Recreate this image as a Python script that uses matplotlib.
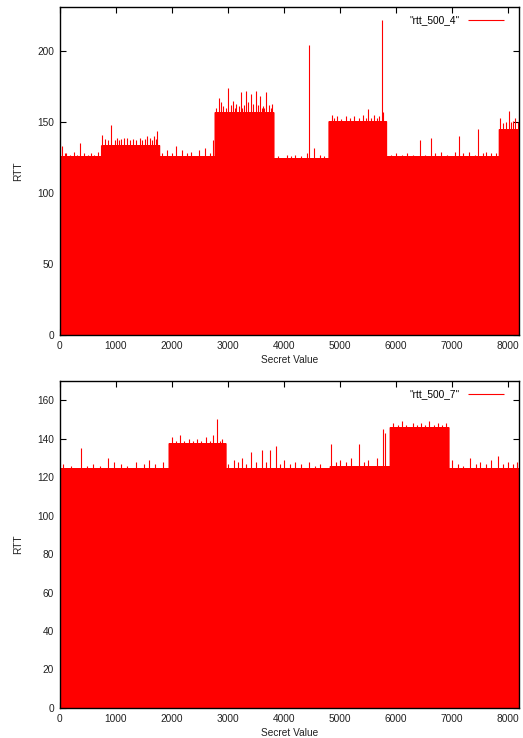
import numpy as np
import matplotlib
matplotlib.use('Agg')
import matplotlib.pyplot as plt

plt.rcParams['font.family'] = ['Liberation Sans', 'DejaVu Sans']

N = 8192  # secret values 0..8191

# ---------- data: plateau levels + visible spikes ----------
top_label = '"rtt_500_4"'
top_edges = [0, 744, 1767, 2767, 3808, 4796, 5813, 7836, 8192]
top_levels = [126, 134, 126, 157, 125, 151, 126, 145]
top_spike_x = [48, 90, 120, 180, 250, 310, 369, 430, 500, 560, 620, 680,
               755, 800, 860, 922, 980, 1023, 1060, 1100, 1150, 1201, 1250,
               1300, 1360, 1427, 1470, 1520, 1560, 1606, 1640, 1680, 1720, 1743,
               1830, 1921, 2000, 2082, 2183, 2270, 2350, 2480, 2588, 2680, 2737,
               2790, 2832, 2870, 2920, 2960, 2993, 3050, 3094, 3120, 3150, 3190,
               3225, 3250, 3280, 3320, 3360, 3404, 3450, 3493, 3530, 3570, 3600,
               3620, 3650, 3678, 3730, 3760, 3791,
               3900, 4046, 4120, 4200, 4300, 4403, 4450, 4540, 4650, 4720,
               4849, 4900, 4950, 5020, 5100, 5180, 5250, 5330, 5400, 5460,
               5504, 5560, 5600, 5650, 5700, 5754, 5772,
               5900, 6000, 6100, 6200, 6300, 6426, 6520, 6617, 6700, 6800,
               6900, 7052, 7129, 7200, 7300, 7400, 7468, 7550, 7600, 7700, 7780,
               7855, 7900, 7950, 8016, 8050, 8080, 8123, 8170]
top_spike_y = [133, 128, 128, 127, 129, 127, 135, 128, 127, 128, 127, 129,
               141, 138, 137, 148, 137, 139, 137, 138, 139, 139, 137,
               138, 137, 139, 137, 138, 140, 139, 137, 140, 138, 144,
               128, 130, 128, 133, 130, 128, 129, 130, 132, 128, 137,
               160, 167, 164, 161, 160, 174, 162, 165, 160, 163, 161,
               171, 160, 162, 172, 164, 170, 163, 172, 162, 168, 160,
               161, 160, 171, 162, 160, 163,
               126, 127, 126, 127, 126, 128, 204, 132, 127, 126,
               155, 153, 154, 152, 154, 153, 154, 153, 155, 153,
               159, 153, 155, 153, 154, 222, 157,
               127, 128, 127, 128, 127, 137, 127, 139, 128, 129,
               127, 129, 140, 128, 129, 127, 145, 128, 129, 128, 128,
               153, 149, 150, 158, 150, 151, 153, 150]

bot_label = '"rtt_500_7"'
bot_edges = [0, 1946, 2957, 4820, 5890, 6932, 8192]
bot_levels = [125, 138, 125, 126, 146, 125]
bot_spike_x = [60, 200, 381, 480, 600, 720, 863, 964, 1100, 1200, 1368,
               1500, 1600, 1700, 1850,
               2000, 2080, 2143, 2220, 2300, 2380, 2450, 2520, 2600, 2680, 2737,
               2808, 2860, 2900,
               3000, 3100, 3180, 3250, 3330, 3416, 3500, 3600, 3680, 3749, 3855,
               3920, 4000, 4100, 4200, 4300, 4450, 4550, 4650,
               4837, 4920, 5000, 5100, 5200, 5343, 5420, 5500, 5650, 5760, 5800,
               5950, 6030, 6097, 6180, 6300, 6380, 6450, 6520, 6591, 6680,
               6750, 6820, 6880,
               7000, 7100, 7200, 7319, 7420, 7500, 7600, 7700, 7825, 7900,
               8000, 8080, 8150]
bot_spike_y = [127, 126, 135, 126, 127, 126, 130, 128, 127, 126, 128,
               127, 129, 127, 128,
               141, 139, 142, 139, 140, 139, 140, 139, 141, 139, 142,
               150, 139, 140,
               127, 129, 128, 130, 127, 133, 128, 134, 128, 134, 136,
               127, 129, 127, 128, 127, 128, 126, 127,
               137, 128, 129, 128, 130, 137, 128, 129, 130, 145, 143,
               148, 147, 149, 147, 148, 147, 148, 147, 149, 147,
               148, 147, 148,
               129, 127, 126, 130, 127, 128, 127, 129, 131, 127,
               128, 127, 128]


def build(edges, levels, sx, sy):
    y = np.zeros(N)
    for a, b, lv in zip(edges[:-1], edges[1:], levels):
        y[a:b] = lv
    y[sx] = sy
    return y


def draw(ax, edges, levels, sx, sy, label, ymax, ystep):
    x = np.arange(N)
    y = build(edges, levels, sx, sy)
    ax.vlines(x, 0, y, color='red', linewidth=0.8, label=label)
    ax.set_xlim(0, N)
    ax.set_ylim(0, ymax)
    ax.set_xticks(range(0, 8001, 1000))
    ax.set_yticks(range(0, ymax, ystep))
    ax.tick_params(direction='in', top=True, right=True, length=4,
                   width=0.8, labelsize=7.3, pad=4, labelcolor='#222222')
    for s in ax.spines.values():
        s.set_linewidth(1.0)
    ax.set_xlabel('Secret Value', fontsize=7.3, labelpad=3, color='#222222')
    ax.set_ylabel('RTT', fontsize=7.3, labelpad=10, color='#222222')
    ax.legend(loc='upper right', frameon=False, markerfirst=False,
              fontsize=7.3, handlelength=3.6, borderaxespad=0.4,
              bbox_to_anchor=(0.985, 1.0))


fig = plt.figure(figsize=(5.23, 7.38), dpi=100)
ax1 = fig.add_axes([0.1142, 0.5461, 0.8783, 0.4444])
ax2 = fig.add_axes([0.1142, 0.0407, 0.8783, 0.4431])

draw(ax1, top_edges, top_levels, top_spike_x, top_spike_y, top_label, 231, 50)
draw(ax2, bot_edges, bot_levels, bot_spike_x, bot_spike_y, bot_label, 170, 20)

fig.savefig('out.png', dpi=100)
